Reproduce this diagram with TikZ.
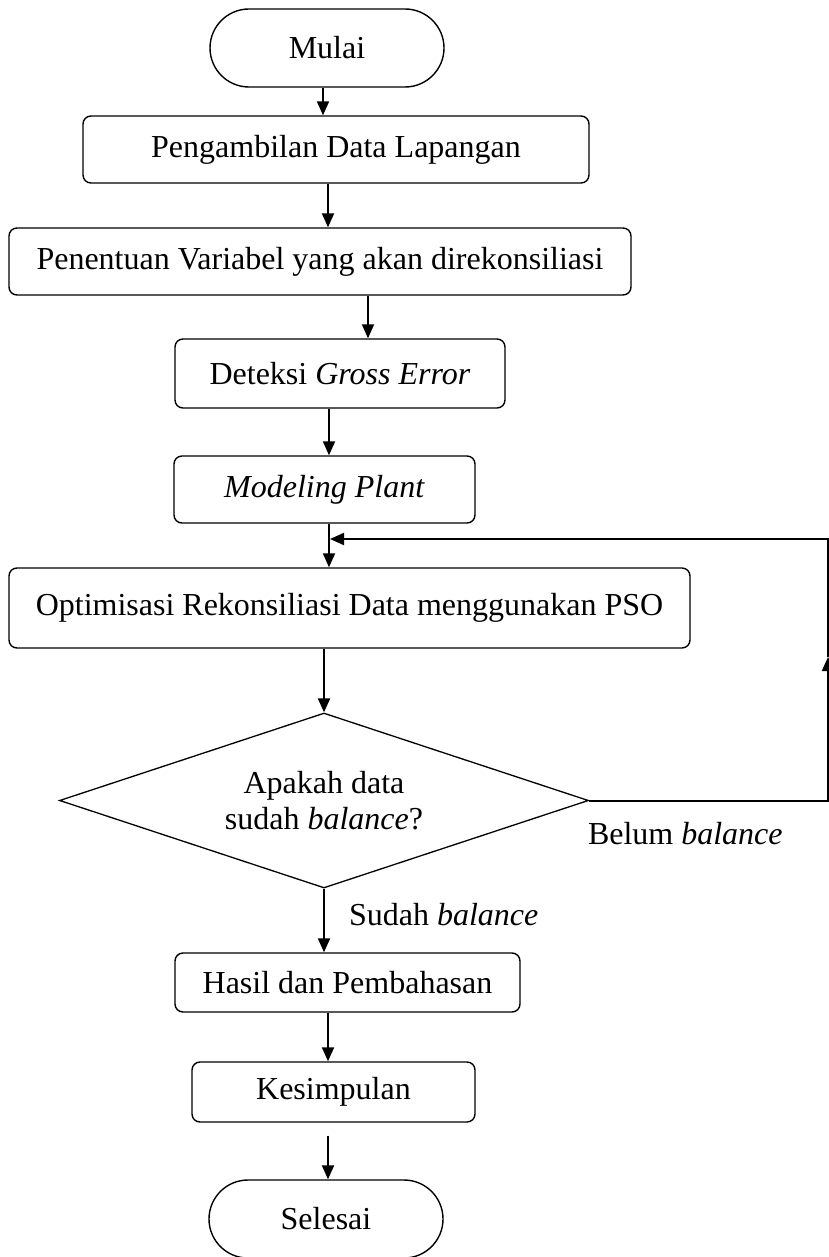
\documentclass[tikz,border=0pt]{standalone}
\usepackage{fontspec}
\setmainfont{Liberation Serif}
\usepackage{tikz}
\usetikzlibrary{arrows.meta,shapes.geometric}

\begin{document}
\begin{tikzpicture}[x=1pt, y=-1pt,
  font=\fontsize{32}{36}\selectfont, >={Triangle[width=12pt,length=14pt]},
  box/.style={draw, line width=1.4pt, rounded corners=8pt, inner sep=0pt, align=center},
  term/.style={box, rounded corners=39pt, minimum width=234pt, minimum height=78pt},
  dec/.style={draw, line width=1.3pt, diamond, aspect=3, inner sep=0pt, align=center},
  lbl/.style={inner sep=0pt, anchor=base west},
  every path/.style={line width=2pt}]
\useasboundingbox (0,0) rectangle (829,1257);
% ---- main column
\node[term] (mulai) at (327,48) {Mulai};
\node[box, minimum width=506pt, minimum height=67pt] (ambil) at (336,149.5) {Pengambilan Data Lapangan};
\node[box, minimum width=622pt, minimum height=67pt] (var) at (320,261.5) {Penentuan Variabel yang akan direkonsiliasi};
\node[box, minimum width=330pt, minimum height=69pt] (gross) at (340,373.5) {Deteksi \textit{Gross Error}};
\node[box, minimum width=301pt, minimum height=67pt] (model) at (324.5,489.5) {\textit{Modeling Plant}};
\node[box, minimum width=681pt, minimum height=80pt] (opt) at (349.5,608) {Optimisasi Rekonsiliasi Data menggunakan PSO};
\node[dec, minimum width=529pt, minimum height=175pt] (cek) at (324,800.5) {Apakah data\\sudah \textit{balance}?};
\node[box, minimum width=345pt, minimum height=59pt] (hasil) at (347.5,982.5) {Hasil dan Pembahasan};
\node[box, minimum width=283pt, minimum height=60pt] (simpul) at (333.5,1092) {Kesimpulan};
\node[term] (selesai) at (326,1219) {Selesai};
\draw[->] (mulai.south -| 323,0) -- (ambil.north -| 323,0);
\draw[->] (ambil.south -| 328,0) -- (var.north -| 328,0);
\draw[->] (var.south -| 368,0) -- (gross.north -| 368,0);
\draw[->] (gross.south -| 329,0) -- (model.north -| 329,0);
\draw[->] (model.south -| 329,0) -- (opt.north -| 329,0);
\draw[->] (opt.south -| cek.north) -- (cek.north);
\draw[->] (cek.south) -- (hasil.north -| cek.south);
\draw[->] (hasil.south -| 328,0) -- (simpul.north -| 328,0);
\draw[->, shorten <=13pt] (simpul.south -| 328,0) -- (selesai.north -| 328,0);
% ---- loop back
\coordinate (lr) at (828,800.5);
\coordinate (mid) at (828,657);
\coordinate (ur) at (828,539);
\draw[->] (cek.east) -- (lr) -- (mid);
\draw[->] (mid) -- (ur) -- (ur -| 330,0);
\node[lbl] (sudah) at (348,925) {Sudah \textit{balance}};
\node[lbl] (belum) at (587,844) {Belum \textit{balance}};
\end{tikzpicture}
\end{document}
